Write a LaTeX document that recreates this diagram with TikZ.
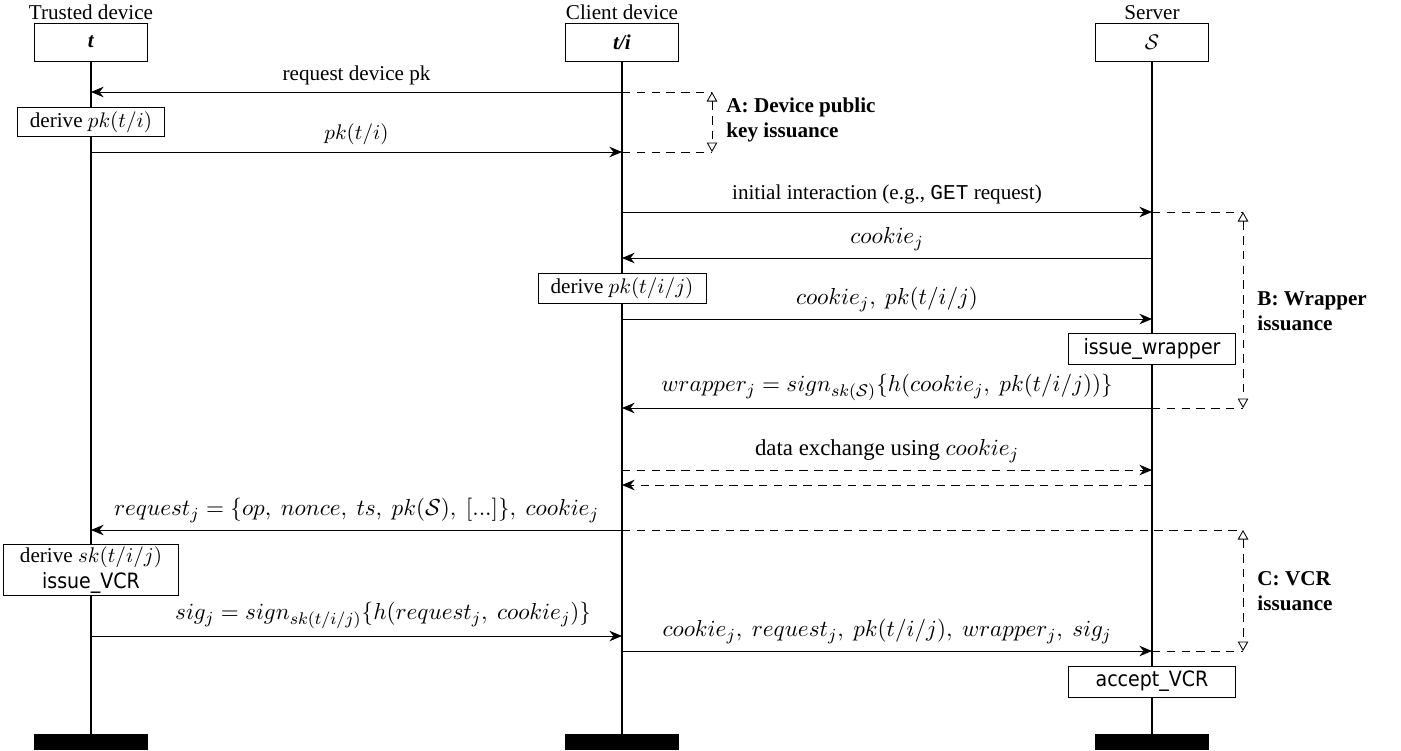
\documentclass[tikz,border=0pt]{standalone}
\usepackage{fontspec}
\setmainfont{Liberation Serif}
\setmonofont{Liberation Mono}
\newfontfamily\boxfont{DejaVu Sans Condensed}
\usetikzlibrary{arrows.meta}

\tikzset{
  actor/.style={draw, minimum width=53.5pt, minimum height=18pt, inner sep=0pt},
  endbar/.style={fill=black, minimum width=53.5pt, minimum height=7.6pt, inner sep=0pt},
  lifeline/.style={semithick},
  msg/.style={-{Stealth[length=6pt,width=5pt,inset=2pt]}},
  dmsg/.style={msg, dash pattern=on 4pt off 3pt},
  mlabel/.style={font=\fontsize{10.8}{13}\selectfont},
  act/.style={draw, fill=white, inner xsep=6pt, inner ysep=2pt},
  actsf/.style={act, font=\boxfont, minimum width=79pt, minimum height=14.7pt},
  grp/.style={dash pattern=on 4pt off 3pt},
  grpspan/.style={grp, {Triangle[open,length=4.5pt,width=5pt]}-{Triangle[open,length=4.5pt,width=5pt]}},
  grplabel/.style={anchor=west, align=left, font=\bfseries},
}

\begin{document}
\begin{tikzpicture}[x=0.4733pt, y=-0.4733pt]
	\useasboundingbox (0,0) rectangle (1401,750);

	%Participantes
	\node[actor, label={[inner sep=1pt]above:Trusted device}] (t) at (91,42) {\textbf{\textit{t}}};
	\node[actor, label={[inner sep=1pt]above:Client device}] (ci) at (622,42) {\textbf{\textit{t/i}}};
	\node[actor, label={[inner sep=1pt]above:Server}] (srv) at (1152,42) {$\mathcal{S}$};

	\node[endbar] (tend) at (91,742) {};
	\node[endbar] (ciend) at (622,742) {};
	\node[endbar] (srvend) at (1152,742) {};

	% Lineas de vida
	\draw[lifeline] (t) -- (tend);
	\draw[lifeline] (ci) -- (ciend);
	\draw[lifeline] (srv) -- (srvend);

	% Puntos de los mensajes
	\foreach \n/\y in {1/92, 2/152, 3/212, 4/258, 5/319, 6/408, 7/470, 8/485, 9/530, 10/636, 11/651}{
		\coordinate (T\n) at (t |- 0,\y);
		\coordinate (C\n) at (ci |- 0,\y);
		\coordinate (S\n) at (srv |- 0,\y);
	}
	\coordinate (A1) at (712,92);
	\coordinate (A2) at (712,152);
	\coordinate (B1) at (1243,212);
	\coordinate (B2) at (1243,408);
	\coordinate (K1) at (1243,530);
	\coordinate (K2) at (1243,651);

	% Cajas de acciones
	\node[act] (dpk) at (91,122) {derive $pk(t/i)$};
	\node[act] (dpkj) at (622,288.5) {derive $pk(t/i/j)$};
	\node[actsf] (iw) at (1152,348.5) {issue\_wrapper};
	\node[act, align=center, inner xsep=8pt, inner ysep=1pt] (dsk) at (91,570) {derive $sk(t/i/j)$\\{\boxfont issue\_VCR}};
	\node[actsf] (acc) at (1152,681.5) {accept\_VCR};

	% Mensajes
	\draw[msg] (C1) -- (T1) node[midway, above] {request device pk};
	\draw[msg] (T2) -- (C2) node[midway, above] {$pk(t/i)$};
	\draw[msg] (C3) -- (S3) node[midway, above] {initial interaction (e.g., \texttt{GET} request)};
	\draw[msg] (S4) -- (C4) node[midway, above, mlabel] {$cookie_j$};
	\draw[msg] (C5) -- (S5) node[midway, above, mlabel] {$cookie_j,\ pk(t/i/j)$};
	\draw[msg] (S6) -- (C6) node[midway, above, mlabel] {$wrapper_j = sign_{sk(\mathcal{S})}\{h(cookie_j,\ pk(t/i/j))\}$};
	\draw[dmsg] (C7) -- (S7) node[midway, above, mlabel] {data exchange using $cookie_j$};
	\draw[dmsg] (S8) -- (C8);
	\draw[msg] (C9) -- (T9) node[midway, above, mlabel] {$request_j = \{op,\ nonce,\ ts,\ pk(\mathcal{S}),\ [...]\},\ cookie_j$};
	\draw[msg] (T10) -- (C10) node[pos=0.55, above, mlabel] {$sig_j = sign_{sk(t/i/j)}\{h(request_j,\ cookie_j)\}$};
	\draw[msg] (C11) -- (S11) node[midway, above, mlabel] {$cookie_j,\ request_j,\ pk(t/i/j),\ wrapper_j,\ sig_j$};

	% Fases
	\draw[grp] (C1) -- (A1);
	\draw[grp] (C2) -- (A2);
	\draw[grpspan] (A1) -- (A2);
	\node[grplabel] (la) at (719,120) {A: Device public\\key issuance};

	\draw[grp] (S3) -- (B1);
	\draw[grp] (S6) -- (B2);
	\draw[grpspan] (B1) -- (B2);
	\node[grplabel] (lb) at (1250,311) {B: Wrapper\\issuance};

	\draw[grp] (C9) -- (K1);
	\draw[grp] (S11) -- (K2);
	\draw[grpspan] (K1) -- (K2);
	\node[grplabel] (lc) at (1250,591) {C: VCR\\issuance};

\end{tikzpicture}
\end{document}
